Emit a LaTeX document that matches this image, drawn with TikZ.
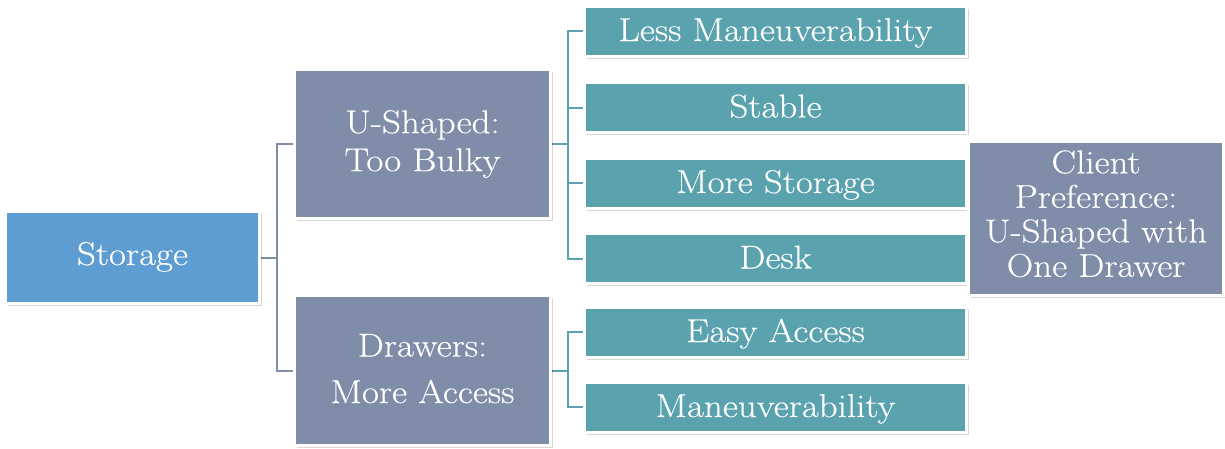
\documentclass[tikz,border=0pt]{standalone}
\usepackage{fontspec}
\setmainfont{Latin Modern Roman}[FakeStretch=1.12, FakeBold=0.25]
\usetikzlibrary{shadows,backgrounds}
\definecolor{cblue}{HTML}{5E9DD2}
\definecolor{cslate}{HTML}{7F8DA9}
\definecolor{cteal}{HTML}{5AA3AE}
\tikzset{
  box/.style={draw=white, line width=3pt, text=white, align=center, inner sep=0pt,
    font=\fontsize{33}{34.5}\selectfont,
    drop shadow={shadow xshift=2pt, shadow yshift=-2.5pt, opacity=0.16, fill=black}},
  leaf/.style={box, fill=cteal, minimum width=382pt, minimum height=50pt,
    text height=24pt, text depth=4pt},
  mid/.style={box, fill=cslate, minimum width=256pt, minimum height=150pt},
  connslate/.style={draw=cslate, line width=2pt},
  connteal/.style={draw=cteal, line width=2pt}
}
\begin{document}
\begin{tikzpicture}[x=1pt,y=-1pt]
\useasboundingbox (0,0) rectangle (1225,448);
\node[box, fill=cblue, minimum width=254pt, minimum height=92pt, text height=24pt, text depth=9pt] (storage) at (132.5,257.5) {Storage};
\node[mid, minimum height=149pt] (ushaped) at (422.5,144) {U-Shaped:\\[3.5pt]Too Bulky};
\node[mid] (drawers) at (422.5,370.5) {Drawers:\\[12pt]More Access\rule[-4pt]{0pt}{4pt}};
\node[leaf] (l1) at (775.5,31) {Less Maneuverability};
\node[leaf] (l2) at (775.5,107.5) {Stable};
\node[leaf] (l3) at (775.5,183) {More Storage};
\node[leaf] (l4) at (775.5,258.5) {Desk};
\node[leaf] (e1) at (775.5,332) {Easy Access};
\node[leaf] (e2) at (775.5,407) {Maneuverability};
\node[box, fill=cslate, minimum width=255pt, minimum height=154pt] (client) at (1096,218.5) {Client\\Preference:\\U-Shaped with\\One Drawer\rule[-10pt]{0pt}{10pt}};
\coordinate (j1) at (277,257.5);
\coordinate (j2) at (568,144);
\coordinate (j3) at (568,370.5);
\begin{scope}[on background layer]
\draw[connslate] (storage.east) -- (j1);
\draw[connslate] (ushaped.west) -| (j1) |- (drawers.west);
\draw[connteal] (ushaped.east) -- (j2);
\draw[connteal] (l1.west) -| (j2) |- (l4.west);
\draw[connteal] (l2.west) -| (j2);
\draw[connteal] (l3.west) -| (j2);
\draw[connteal] (drawers.east) -- (j3);
\draw[connteal] (e1.west) -| (j3) |- (e2.west);
\end{scope}
\end{tikzpicture}
\end{document}
